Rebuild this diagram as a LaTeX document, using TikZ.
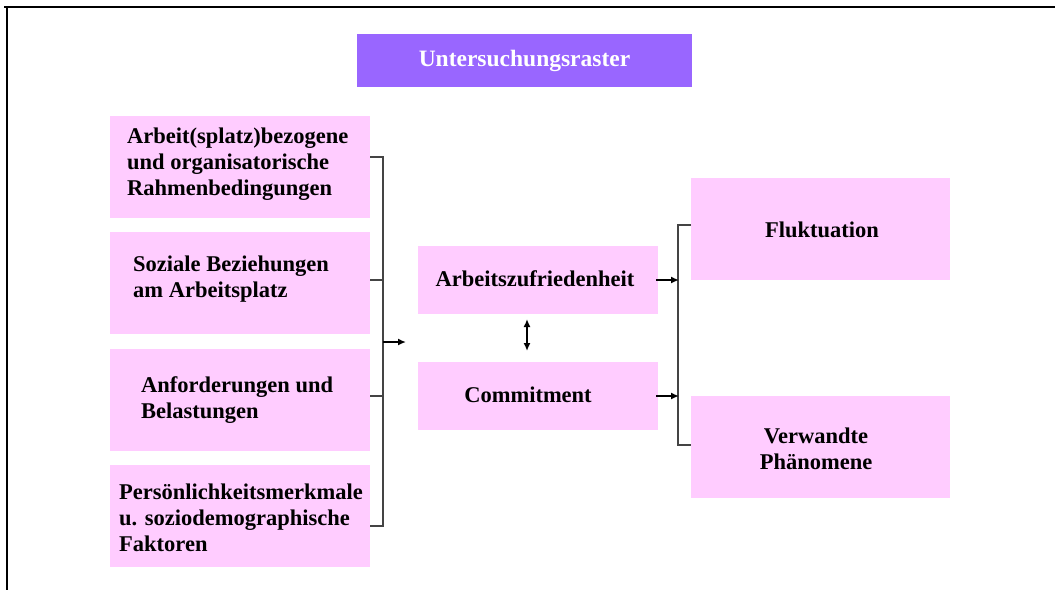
\documentclass[tikz,border=0pt]{standalone}
\usepackage{fontspec}
\setmainfont{Liberation Serif}
\usetikzlibrary{arrows.meta}
\definecolor{boxpink}{HTML}{FFCCFF}
\definecolor{titlepurple}{HTML}{9966FF}
\definecolor{brk}{HTML}{444444}
\tikzset{
  box/.style={fill=boxpink, draw=none},
  lbl/.style={font=\fontsize{22.5}{26}\selectfont\bfseries, align=left, inner sep=0pt},
  clbl/.style={font=\fontsize{22.5}{26}\selectfont\bfseries, align=center, inner sep=0pt},
  brack/.style={draw=brk, line width=1.2pt},
  arr/.style={-{Latex[length=8pt,width=7pt]}, line width=1.6pt},
}
\begin{document}
\begin{tikzpicture}[x=1pt,y=-1pt]
\useasboundingbox (0,0) rectangle (1055,590);
% frame
\draw[line width=2pt] (4,7) -- (1055,7);
\draw[line width=2pt] (7,7) -- (7,590);
% title
\fill[titlepurple] (357,34) rectangle (692,87);
\node[font=\fontsize{23.5}{26}\selectfont\bfseries, text=white, inner sep=0pt] (title) at (524.5,61) {Untersuchungsraster};
% left boxes
\fill[box] (110,116) rectangle (370,218);
\fill[box] (110,232) rectangle (370,334);
\fill[box] (110,349) rectangle (370,451);
\fill[box] (110,465) rectangle (370,567);
\node[lbl, anchor=west] (l1) at (127,164) {Arbeit(splatz)bezogene\\und organisatorische\\Rahmenbedingungen};
\node[lbl, anchor=west] (l2) at (133,279) {Soziale Beziehungen\\am Arbeitsplatz};
\node[lbl, anchor=west] (l3) at (141,400) {Anforderungen und\\Belastungen};
\node[lbl, anchor=west] (l4) at (119,518) {Persönlichkeitsmerkmale\\u. soziodemographische\\Faktoren};
% middle boxes
\fill[box] (418,246) rectangle (658,314);
\fill[box] (418,362) rectangle (658,430);
\node[clbl] (az) at (535,279) {Arbeitszufriedenheit};
\node[clbl] (com) at (528,395) {Commitment};
% right boxes
\fill[box] (691,178) rectangle (950,280);
\fill[box] (691,396) rectangle (950,498);
\node[clbl] (fl) at (822,230) {Fluktuation};
\node[clbl] (vp) at (816,449) {Verwandte\\Phänomene};
% left bracket
\coordinate (lt1) at (370,157); \coordinate (lb1) at (383,157);
\coordinate (lt2) at (370,280); \coordinate (lb2) at (383,280);
\coordinate (lt3) at (370,396); \coordinate (lb3) at (383,396);
\coordinate (lt4) at (370,526); \coordinate (lb4) at (383,526);
\draw[brack] (lt1) -- (lb1) -- (lb4) -- (lt4);
\draw[brack] (lt2) -- (lb2);
\draw[brack] (lt3) -- (lb3);
\coordinate (la) at (383,342); \coordinate (lae) at (406,342);
\draw[arr] (la) -- (lae);
% double arrow
\coordinate (d1) at (527,319); \coordinate (d2) at (527,351);
\draw[{Latex[length=8pt,width=7pt]}-{Latex[length=8pt,width=7pt]}, line width=1.6pt] (d1) -- (d2);
% right bracket
\coordinate (rt) at (678,225); \coordinate (rb) at (678,445);
\coordinate (rtt) at (691,225); \coordinate (rbt) at (691,445);
\draw[brack] (rtt) -- (rt) -- (rb) -- (rbt);
\coordinate (a1s) at (656,280); \coordinate (a1e) at (679,280);
\coordinate (a2s) at (656,396); \coordinate (a2e) at (679,396);
\draw[arr] (a1s) -- (a1e);
\draw[arr] (a2s) -- (a2e);
\end{tikzpicture}
\end{document}
